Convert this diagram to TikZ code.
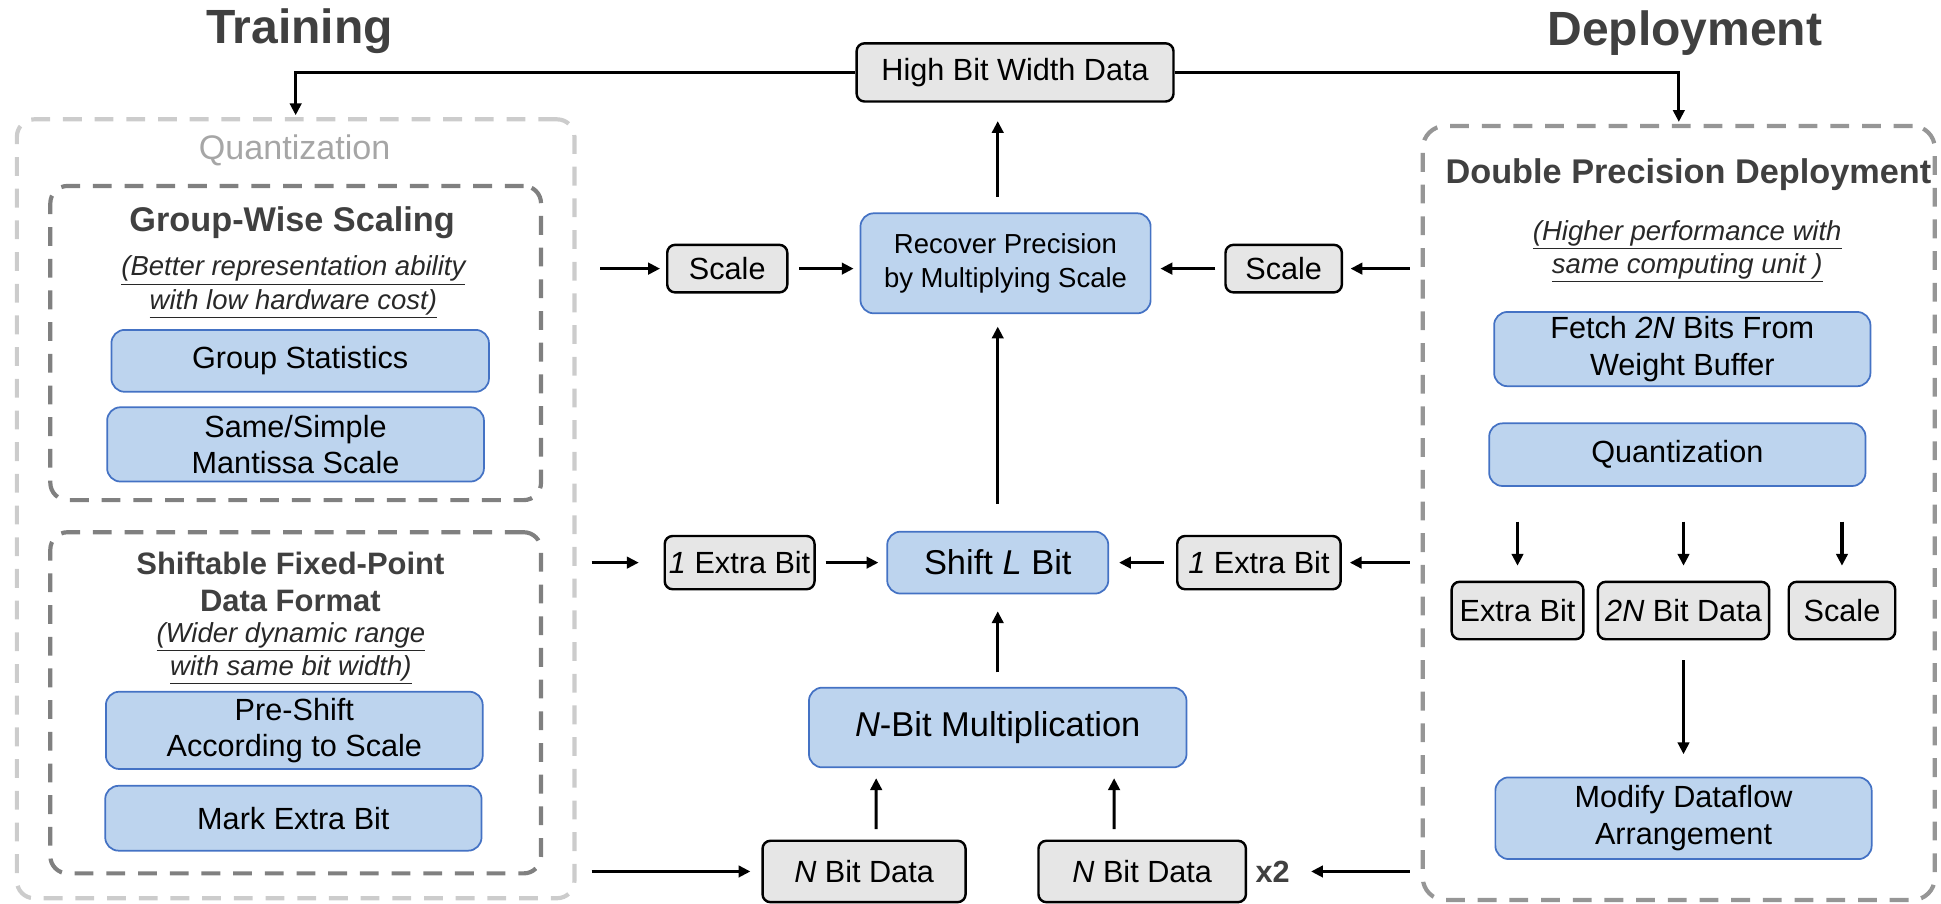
\documentclass[tikz,border=0pt]{standalone}
\usepackage{fontspec}
\setmainfont{Liberation Sans}
\usetikzlibrary{arrows.meta,positioning}

\definecolor{titlegray}{RGB}{64,64,64}
\definecolor{notegray}{RGB}{40,40,40}
\definecolor{boxgray}{RGB}{230,230,230}
\definecolor{bluefill}{RGB}{189,212,238}
\definecolor{blueline}{RGB}{68,114,196}
\definecolor{framelight}{RGB}{204,204,204}
\definecolor{framedark}{RGB}{128,128,128}
\definecolor{framemid}{RGB}{150,150,150}
\definecolor{quantgray}{RGB}{166,166,166}

\newcommand{\fsTitle}{\fontsize{27.6}{33}\selectfont\bfseries}
\newcommand{\fsHead}{\fontsize{19.7}{23}\selectfont\bfseries}
\newcommand{\fsSubHead}{\fontsize{17.8}{20.9}\selectfont\bfseries}
\newcommand{\fsNote}{\fontsize{15.8}{19.1}\selectfont\itshape}
\newcommand{\fsBox}{\fontsize{17.6}{21}\selectfont}
\newcommand{\fsSmallBox}{\fontsize{15.8}{19.3}\selectfont}
\newcommand{\fsBigBox}{\fontsize{19.8}{24}\selectfont}

\tikzset{
  databox/.style={draw=black, fill=boxgray, line width=1.4pt, rounded corners=1.6mm, inner sep=0pt, font=\fsBox},
  opbox/.style={draw=blueline, fill=bluefill, line width=1pt, rounded corners=2.7mm, inner sep=0pt, align=center, font=\fsBox},
  dashframe/.style={dash pattern=on 3.8mm off 2.6mm, line width=2.4pt, rounded corners=3.5mm, inner sep=0pt},
  flowarrow/.style={-{Triangle[length=2.4mm,width=2.3mm]}, line width=1.8pt},
}

\begin{document}
\begin{tikzpicture}[x=0.25mm, y=-0.25mm]
\useasboundingbox (0,0) rectangle (1568,730);

% titles
\node[font=\fsTitle, text=titlegray, anchor=base] (train) at (242,35) {Training};
\node[font=\fsTitle, text=titlegray, anchor=base] (deploytitle) at (1361,36.5) {Deployment};

% dashed frames
\node[dashframe, draw=framelight, minimum width=112.6mm, minimum height=157.3mm] (quant) at (238.85,411) {};
\node[dashframe, draw=framedark, minimum width=99.1mm, minimum height=63.45mm] (groupw) at (238.85,277.1) {};
\node[dashframe, draw=framedark, minimum width=99.1mm, minimum height=68.9mm] (shiftfmt) at (238.85,567.75) {};
\node[dashframe, draw=framemid, minimum width=103.4mm, minimum height=156.3mm, rounded corners=4.5mm] (deploy) at (1356.2,414.4) {};

% training side
\node[font=\fontsize{19.6}{23}\selectfont, text=quantgray, anchor=base] (quantlabel) at (238,129) {Quantization};
\node[font=\fsHead, text=titlegray, anchor=base] (gwhead) at (236,187) {Group-Wise Scaling};
\node[font=\fsNote, text=notegray, align=center] (gwnote) at (237,232) {\underline{(Better representation ability}\\\underline{with low hardware cost)}};
\node[opbox, minimum width=76.25mm, minimum height=12.5mm] (gstat) at (242.5,291.5) {Group Statistics};
\node[opbox, minimum width=76.1mm, minimum height=15mm] (mant) at (238.75,359) {Same/Simple\\Mantissa Scale};

\node[font=\fsSubHead, text=titlegray, align=center] (sfhead) at (234.6,470) {Shiftable Fixed-Point\\Data Format};
\node[font=\fsNote, text=notegray, align=center] (sfnote) at (235,528) {\underline{(Wider dynamic range}\\\underline{with same bit width)}};
\node[opbox, minimum width=76.1mm, minimum height=15.6mm] (preshift) at (237.75,590) {Pre-Shift\\According to Scale};
\node[opbox, minimum width=76mm, minimum height=13.1mm] (markbit) at (237,661) {Mark Extra Bit};

% middle
\node[databox, minimum width=64mm, minimum height=11.75mm] (highbit) at (820,58.5) {High Bit Width Data};
\node[opbox, font=\fsSmallBox, minimum width=58.6mm, minimum height=20.2mm] (recover) at (812.3,212.7) {Recover Precision\\by Multiplying Scale};
\node[databox, minimum width=24.25mm, minimum height=9.6mm] (lscale) at (587.5,217) {Scale};
\node[databox, minimum width=23.5mm, minimum height=9.6mm] (rscale) at (1037,217) {Scale};
\node[databox, minimum width=30.25mm, minimum height=10.75mm] (lextra) at (597.5,454.5) {\textit{1} Extra Bit};
\node[opbox, font=\fsBigBox, minimum width=44.65mm, minimum height=12.5mm] (shift) at (806,454.5) {Shift \textit{L} Bit};
\node[databox, minimum width=33mm, minimum height=10.75mm] (rextra) at (1017,454.5) {\textit{1} Extra Bit};
\node[opbox, font=\fsBigBox, minimum width=76.25mm, minimum height=16.1mm] (mult) at (806,587.7) {\textit{N}-Bit Multiplication};
\node[databox, minimum width=41mm, minimum height=12.4mm] (ldata) at (698,704) {\textit{N} Bit Data};
\node[databox, minimum width=41.9mm, minimum height=12.4mm] (rdata) at (922.7,704) {\textit{N} Bit Data};
\node[font=\fsBox\bfseries, text=titlegray] (times) at (1028,704) {x2};

% deployment side
\node[font=\fsHead, text=titlegray, anchor=base] (dphead) at (1364,148) {Double Precision Deployment};
\node[font=\fsNote, text=notegray, align=center] (dpnote) at (1363,203) {\underline{(Higher performance with}\\\underline{same computing unit )}};
\node[opbox, minimum width=76mm, minimum height=15mm] (fetch) at (1359,282) {Fetch \textit{2N} Bits From\\Weight Buffer};
\node[opbox, minimum width=76mm, minimum height=12.65mm] (quantize) at (1355,367.3) {Quantization};
\node[databox, minimum width=26.6mm, minimum height=11.6mm] (xbit) at (1225.9,493.2) {Extra Bit};
\node[databox, minimum width=34.6mm, minimum height=11.6mm] (wdata) at (1360,493.2) {\textit{2N} Bit Data};
\node[databox, minimum width=21.5mm, minimum height=11.6mm] (wscale) at (1488,493.2) {Scale};
\node[opbox, minimum width=76mm, minimum height=16.5mm] (modify) at (1360,661) {Modify Dataflow\\Arrangement};

% free ends at the frames
\coordinate (qout1) at (485,217);
\coordinate (qout2) at (478,454.5);
\coordinate (qout3) at (478,704);
\coordinate (dout1) at (1139,217);
\coordinate (dout2) at (1139,454.5);
\coordinate (dout3) at (1139,704);

% connectors
\draw[flowarrow, shorten >=0.4mm] (highbit.west) -| (quant.north);
\draw[flowarrow, shorten >=0.4mm] (highbit.east) -| (deploy.north);

\draw[flowarrow, shorten >=1.2mm] (qout1) -- (lscale);
\draw[flowarrow, shorten <=2.2mm, shorten >=1.2mm] (lscale) -- (lscale -| recover.west);
\draw[flowarrow, shorten >=1.5mm] (dout1) -- (rscale);
\draw[flowarrow, shorten <=1.8mm, shorten >=1.8mm] (rscale) -- (rscale -| recover.east);
\draw[flowarrow, shorten <=3.2mm, shorten >=3.7mm] (shift.north |- recover.north) -- (shift.north |- highbit.south);
\draw[flowarrow, shorten <=5.5mm, shorten >=2.5mm] (shift.north) -- (shift.north |- recover.south);

\draw[flowarrow, shorten >=5mm] (qout2) -- (lextra);
\draw[flowarrow, shorten <=2mm, shorten >=1.6mm] (lextra) -- (shift);
\draw[flowarrow, shorten <=2.5mm, shorten >=2mm] (rextra) -- (shift);
\draw[flowarrow, shorten >=1.6mm] (dout2) -- (rextra);

\draw[flowarrow, shorten <=2.9mm, shorten >=3.4mm] (mult) -- (shift);
\draw[flowarrow, shorten <=2.1mm, shorten >=2mm] ([xshift=2.45mm]ldata.north) -- ([xshift=-24.55mm]mult.south);
\draw[flowarrow, shorten <=2.1mm, shorten >=2mm] ([xshift=-5.675mm]rdata.north) -- ([xshift=23.5mm]mult.south);
\draw[flowarrow, shorten >=2.2mm] (qout3) -- (ldata);
\draw[flowarrow, shorten >=3.1mm] (dout3) -- (times);

\draw[flowarrow, shorten <=7mm, shorten >=3mm] (quantize.south -| xbit) -- (xbit);
\draw[flowarrow, shorten <=7mm, shorten >=3mm] (quantize.south -| wdata) -- (wdata);
\draw[flowarrow, shorten <=7mm, shorten >=3mm] (quantize.south -| wscale) -- (wscale);
\draw[flowarrow, shorten <=4mm, shorten >=4.5mm] (wdata) -- (wdata |- modify.north);
\end{tikzpicture}
\end{document}
